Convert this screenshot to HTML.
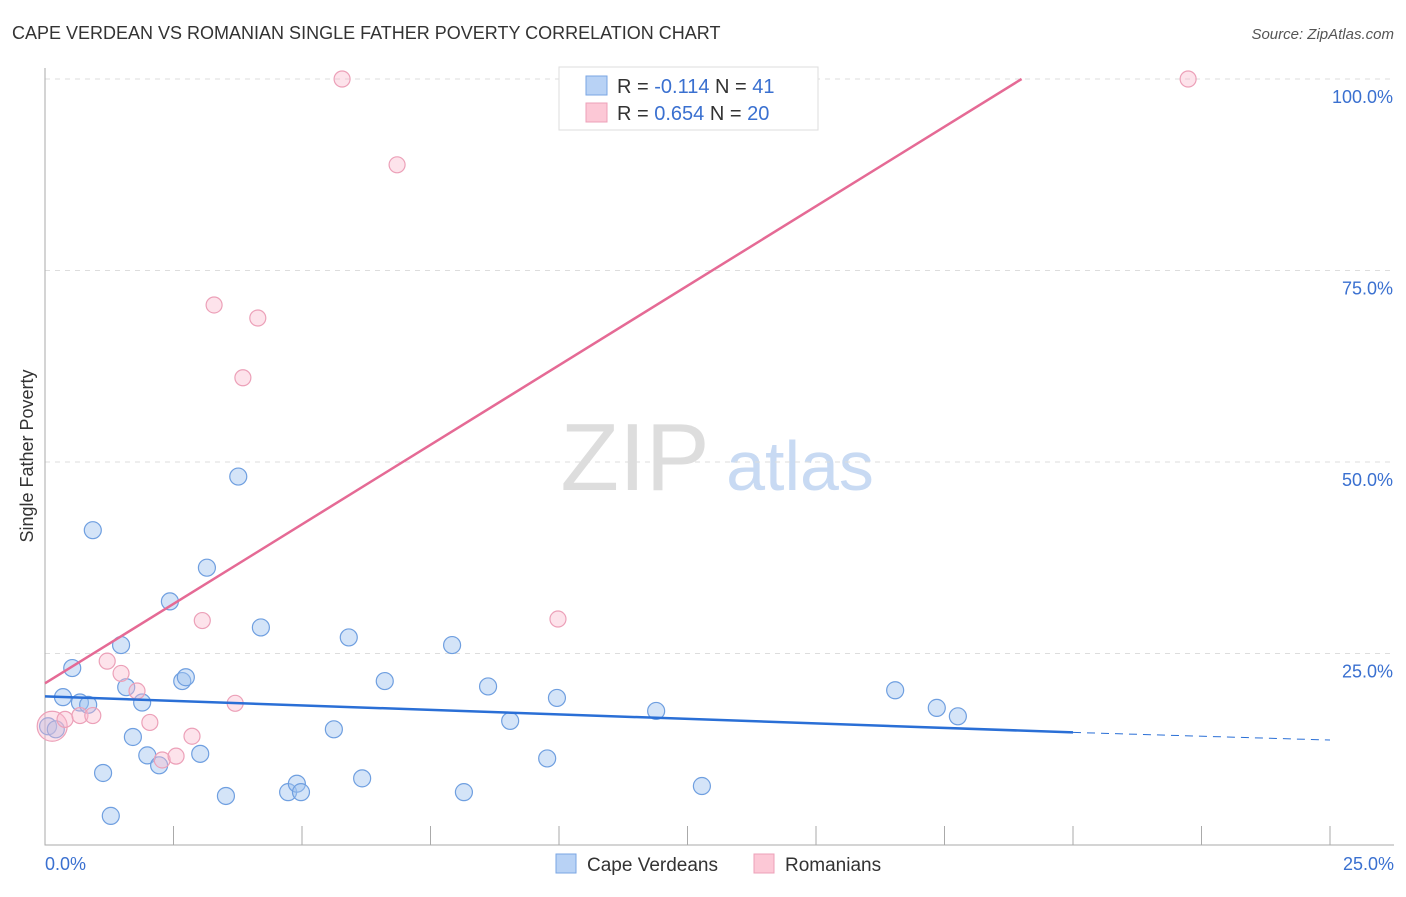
<!DOCTYPE html>
<html><head><meta charset="utf-8"><style>
body{margin:0;background:#fff;font-family:"Liberation Sans",sans-serif}
svg text{font-family:"Liberation Sans",sans-serif}
</style></head><body>
<svg id="c" width="1406" height="892" xmlns="http://www.w3.org/2000/svg">
<text x="12" y="39" font-size="18" fill="#333">CAPE VERDEAN VS ROMANIAN SINGLE FATHER POVERTY CORRELATION CHART</text>
<text x="1394" y="39" font-size="15" fill="#555" font-style="italic" text-anchor="end">Source: ZipAtlas.com</text>
<text x="33" y="456" font-size="18" fill="#333" text-anchor="middle" transform="rotate(-90 33 456)">Single Father Poverty</text>
<g><text x="635" y="490" font-size="96" font-family="Liberation Serif" fill="#ddd" text-anchor="middle">ZIP</text><text x="800" y="490" font-size="70" fill="#c8daf3" text-anchor="middle">atlas</text></g>
<g id="grid"></g><g id="axes"></g><g id="marks"></g>
<g>
<rect x="559" y="67" width="259" height="63" fill="#fff" stroke="#ddd"/>
<rect x="586" y="76" width="21" height="19" fill="#b8d2f5" stroke="#7aa6e3"/>
<rect x="586" y="103" width="21" height="19" fill="#fcc8d6" stroke="#eda0b8"/>
<text x="617" y="93" font-size="20" fill="#333">R = <tspan fill="#3a70d0">-0.114</tspan>   N = <tspan fill="#3a70d0"> 41</tspan></text>
<text x="617" y="120" font-size="20" fill="#333">R = <tspan fill="#3a70d0">0.654</tspan>   N = <tspan fill="#3a70d0">20</tspan></text>
</g>
<g>
<rect x="556" y="854" width="20" height="19" fill="#b8d2f5" stroke="#7aa6e3"/>
<text x="587" y="871" font-size="19" fill="#333">Cape Verdeans</text>
<rect x="754" y="854" width="20" height="19" fill="#fcc8d6" stroke="#eda0b8"/>
<text x="785" y="871" font-size="19" fill="#333">Romanians</text>
</g>
</svg>
<script>
const blueX=[0.06,0.21,0.35,0.53,0.68,0.84,0.93,1.13,1.28,1.48,1.58,1.71,1.89,1.99,2.22,2.43,2.67,2.74,3.02,3.15,3.52,3.76,4.20,4.73,4.90,4.98,5.62,5.91,6.17,6.61,7.92,8.15,8.62,9.05,9.77,9.96,11.89,12.78,16.54,17.35,17.76];
const blueY=[15.5,15.1,19.3,23.1,18.6,18.3,41.1,9.4,3.8,26.1,20.6,14.1,18.6,11.7,10.4,31.8,21.4,21.9,11.9,36.2,6.4,48.1,28.4,6.9,8.0,6.9,15.1,27.1,8.7,21.4,26.1,6.9,20.7,16.2,11.3,19.2,17.5,7.7,20.2,17.9,16.8];
const pinkX=[0.14,0.39,0.68,0.93,1.21,1.48,1.79,2.04,2.28,2.55,2.86,3.06,3.29,3.70,3.85,4.14,5.78,6.85,9.98,22.24];
const pinkY=[15.5,16.4,16.9,16.9,24.0,22.4,20.1,16.0,11.1,11.6,14.2,29.3,70.5,18.5,61.0,68.8,100,88.8,29.5,100];
const pinkR=[15,8,8,8,8,8,8,8,8,8,8,8,8,8,8,8,8,8,8,8];
const blueLine=[[0,19.4],[20,14.7]], blueDash=[[20,14.7],[25,13.7]];
const pinkLine=[[0,21.1],[19.0,100]];
const yTicks=[25,50,75,100], yLabels=["25.0%","50.0%","75.0%","100.0%"];
const X=v=>45+v*51.4, Y=v=>845-v*7.66;
const NS="http://www.w3.org/2000/svg";
function mk(p,t,a){const e=document.createElementNS(NS,t);for(const k in a)e.setAttribute(k,a[k]);p.appendChild(e);return e;}
const grid=document.getElementById('grid'),axes=document.getElementById('axes'),marks=document.getElementById('marks');
yTicks.forEach((t,i)=>{const l=mk(grid,'line',{x1:45,x2:1394,y1:Y(t),y2:Y(t),stroke:'#ddd','stroke-dasharray':'5,5'});


const tx=mk(axes,'text',{x:1393,y:Y(t)+24,'font-size':18,fill:'#3a70d0','text-anchor':'end'});tx.textContent=yLabels[i];

});
const ax=mk(axes,'path',{d:'M45 68V845H1394',fill:'none',stroke:'#aaa'});


for(let i=1;i<=10;i++){const t=mk(axes,'line',{x1:X(i*2.5),x2:X(i*2.5),y1:826,y2:845,stroke:'#aaa'});

}
[[0,"0.0%","start",45],[25,"25.0%","end",1394]].forEach(d=>{const t=mk(axes,'text',{x:d[3],y:870,'font-size':18,fill:'#3a70d0','text-anchor':d[2]});t.textContent=d[1];

});
blueX.forEach((v,i)=>{const c=mk(marks,'circle',{cx:X(v),cy:Y(blueY[i]),r:8.5,fill:'rgba(160,195,240,0.45)',stroke:'#6f9fe0','stroke-width':1.2});

});
pinkX.forEach((v,i)=>{const c=mk(marks,'circle',{cx:X(v),cy:Y(pinkY[i]),r:pinkR[i],fill:'rgba(250,185,205,0.4)',stroke:'#eca0b8','stroke-width':1.2});

});
const l1=mk(marks,'line',{x1:X(blueLine[0][0]),y1:Y(blueLine[0][1]),x2:X(blueLine[1][0]),y2:Y(blueLine[1][1]),stroke:'#2a6fd6','stroke-width':2.5});


const l2=mk(marks,'line',{x1:X(blueDash[0][0]),y1:Y(blueDash[0][1]),x2:X(blueDash[1][0]),y2:Y(blueDash[1][1]),stroke:'#2a6fd6','stroke-width':1,'stroke-dasharray':'8,6'});


const l3=mk(marks,'line',{x1:X(pinkLine[0][0]),y1:Y(pinkLine[0][1]),x2:X(pinkLine[1][0]),y2:Y(pinkLine[1][1]),stroke:'#e56a95','stroke-width':2.5});


</script>
</body></html>
